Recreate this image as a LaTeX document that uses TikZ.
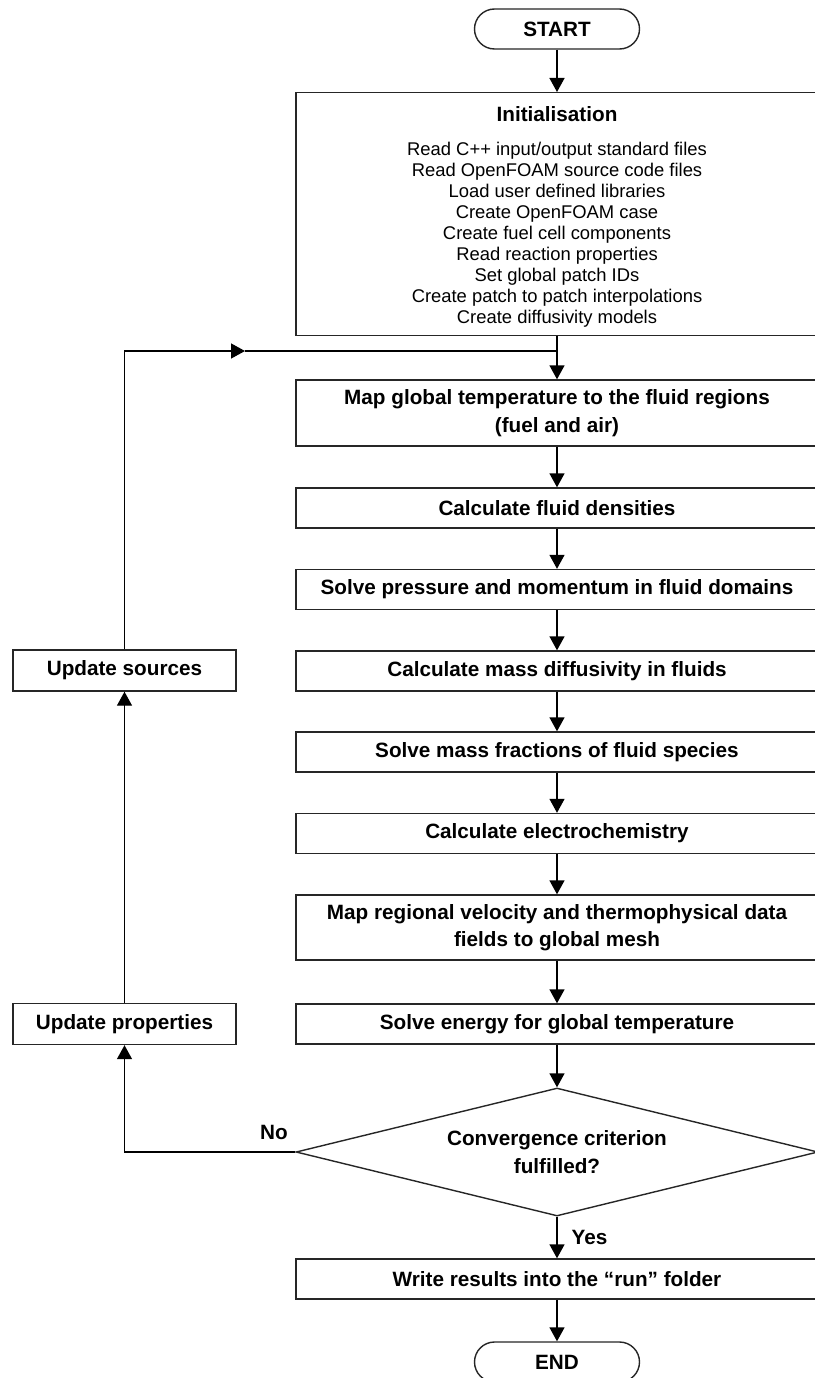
\documentclass[tikz,border=0pt]{standalone}
\usepackage{fontspec}
\setmainfont{Liberation Sans}
\usetikzlibrary{arrows.meta,shapes.geometric}
\begin{document}
\begin{tikzpicture}[
  x=1pt, y=-1pt,
  every node/.style={draw=black!85, line width=1.4pt, inner sep=2pt, align=center, text=black, fill=white,
    font=\bfseries\fontsize{20.7}{27.5}\selectfont},
  proc/.style={rectangle, minimum width=522pt, minimum height=40pt},
  side/.style={rectangle, minimum width=223pt, minimum height=41pt},
  term/.style={rectangle, rounded corners=20pt, minimum width=165pt, minimum height=40pt},
  lbl/.style={draw=none, fill=none, inner sep=0pt},
  flow/.style={draw, line width=1.4pt, -{Triangle[length=14pt,width=15pt]}}
]
  \useasboundingbox (0,0) rectangle (814,1378);
  % main column
  \node[term] (start) at (557,29) {START};
  \node[proc, minimum height=243pt, anchor=north] (init) at (557,92) {};
  \node[lbl] (inittitle) at (557,114) {Initialisation};
  \node[lbl, font=\fontsize{18.4}{21}\selectfont, anchor=north] (initlist) at (557,141) {Read C++ input/output standard files\\
    Read OpenFOAM source code files\\
    Load user defined libraries\\
    Create OpenFOAM case\\
    Create fuel cell components\\
    Read reaction properties\\
    Set global patch IDs\\
    Create patch to patch interpolations\\
    Create diffusivity models};
  \node[proc, minimum height=66pt] (maptemp) at (557,413) {Map global temperature to the fluid regions\\(fuel and air)};
  \node[proc] (dens) at (557,508) {Calculate fluid densities};
  \node[proc] (press) at (557,589.5) {Solve pressure and momentum in fluid domains};
  \node[proc] (diff) at (557,671) {Calculate mass diffusivity in fluids};
  \node[proc] (frac) at (557,752) {Solve mass fractions of fluid species};
  \node[proc] (echem) at (557,833.5) {Calculate electrochemistry};
  \node[proc, minimum height=65pt] (mapvel) at (557,927.5) {Map regional velocity and thermophysical data\\fields to global mesh};
  \node[proc] (energy) at (557,1024) {Solve energy for global temperature};
  \node[diamond, aspect=4.08, minimum width=522pt, minimum height=128pt, inner sep=0pt] (conv) at (557,1152) {Convergence criterion\\fulfilled?};
  \node[proc] (write) at (557,1279) {Write results into the “run” folder};
  \node[term] (end) at (557,1362) {END};
  % feedback column
  \node[side] (usrc) at (124.5,670.5) {Update sources};
  \node[side] (uprop) at (124.5,1024) {Update properties};
  \coordinate (join) at (557,351);
  \coordinate (fbtip) at (245,351);
  % connectors
  \draw[flow] (start) -- (init);
  \draw[line width=1.4pt] (init) -- (join);
  \draw[flow] (join) -- (maptemp);
  \draw[flow] (maptemp) -- (dens);
  \draw[flow] (dens) -- (press);
  \draw[flow] (press) -- (diff);
  \draw[flow] (diff) -- (frac);
  \draw[flow] (frac) -- (echem);
  \draw[flow] (echem) -- (mapvel);
  \draw[flow] (mapvel) -- (energy);
  \draw[flow] (energy) -- (conv);
  \draw[flow] (conv) -- node[lbl, right=14pt] (yes) {Yes} (write);
  \draw[flow] (write) -- (end);
  \draw[flow] (conv.west) -| (uprop.south);
  \node[lbl] (no) at (274,1132) {No};
  \draw[flow] (uprop) -- (usrc);
  \draw[flow] (usrc.north) |- (fbtip);
  \draw[line width=1.4pt] (fbtip) -- (join);
\end{tikzpicture}
\end{document}
